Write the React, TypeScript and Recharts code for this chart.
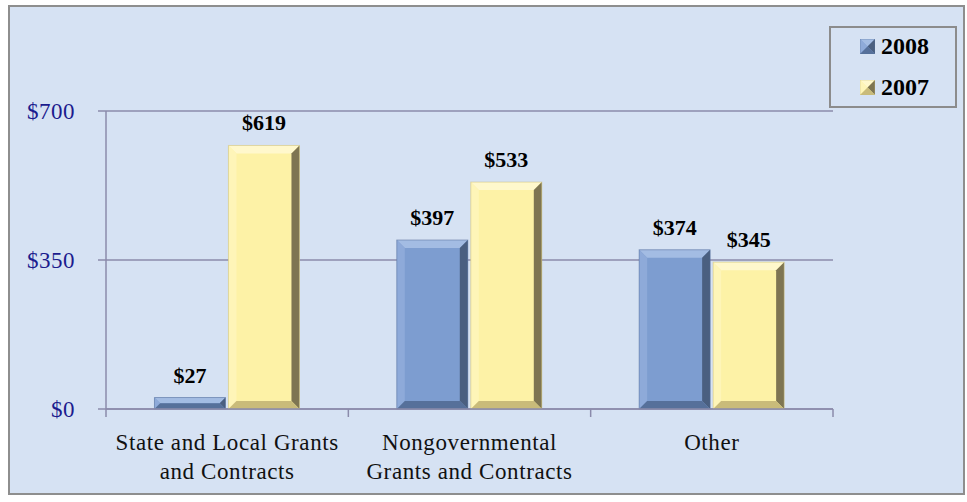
import { BarChart, Bar, XAxis, YAxis, CartesianGrid, LabelList } from 'recharts'

const categories = ['State and Local Grants|and Contracts', 'Nongovernmental|Grants and Contracts', 'Other']
const values2008 = [27, 397, 374]
const values2007 = [619, 533, 345]
const yTicks = [0, 350, 700]

const data = categories.map((name, i) => ({ name, y2008: values2008[i], y2007: values2007[i] }))

const SERIF = 'Liberation Serif, serif'

const palette = {
  y2008: { face: '#7d9dd0', light: '#a3bce3', mid: '#8eaad9', dark: '#56709a', darker: '#4a5f80' },
  y2007: { face: '#fdf2a6', light: '#fff8cc', mid: '#fef5b8', dark: '#c9bb7a', darker: '#7e7552' },
}

const bevelBar = (key: 'y2008' | 'y2007') => (props: any) => {
  const { x, y, width: w, height: h } = props
  if (!h || h <= 0) return null
  const c = palette[key]
  const b = Math.min(8, w / 2, h / 2)
  return (
    <g>
      <rect x={x} y={y} width={w} height={h} fill={c.face} />
      <polygon points={`${x},${y} ${x + w},${y} ${x + w - b},${y + b} ${x + b},${y + b}`} fill={c.light} />
      <polygon points={`${x},${y} ${x + b},${y + b} ${x + b},${y + h - b} ${x},${y + h}`} fill={c.mid} />
      <polygon points={`${x + w},${y} ${x + w},${y + h} ${x + w - b},${y + h - b} ${x + w - b},${y + b}`} fill={c.darker} />
      <polygon points={`${x},${y + h} ${x + w},${y + h} ${x + w - b},${y + h - b} ${x + b},${y + h - b}`} fill={c.dark} />
      <rect x={x} y={y} width={w} height={h} fill="none" stroke={c.dark} strokeOpacity={0.5} strokeWidth={1} />
    </g>
  )
}

const XTick = (props: any) => {
  const { x, y, payload, index } = props
  const lines = String(payload.value).split('|')
  const off = payload.offset || 0
  return (
    <g>
      <line x1={x - off} x2={x - off} y1={y - 8} y2={y} stroke="#8b8bab" strokeWidth={1.5} />
      {index === categories.length - 1 && (
        <line x1={x + off} x2={x + off} y1={y - 8} y2={y} stroke="#8b8bab" strokeWidth={1.5} />
      )}
      <text x={x} y={y + 33} textAnchor="middle" fontFamily={SERIF} fontSize={23} letterSpacing={0.6} fill="#111">
        {lines.map((l, i) => (
          <tspan key={i} x={x} dy={i === 0 ? 0 : 29}>
            {l}
          </tspan>
        ))}
      </text>
    </g>
  )
}

const YTick = (props: any) => {
  const { x, y, payload } = props
  return (
    <text x={x} y={y} dy={8} textAnchor="end" fontFamily={SERIF} fontSize={23} letterSpacing={0.5} fill="#1c1c8e">
      {`$${payload.value}`}
    </text>
  )
}

const ValueLabel = (props: any) => {
  const { x, y, width, value } = props
  return (
    <text x={x + width / 2} y={y - 15} textAnchor="middle" fontFamily={SERIF} fontSize={22} fontWeight="bold" fill="#000">
      {`$${value}`}
    </text>
  )
}

const LegendBox = () => (
  <div
    style={{
      position: 'absolute',
      left: 829,
      top: 26,
      width: 128,
      height: 82,
      border: '2px solid #8c8c8c',
      boxSizing: 'border-box',
      fontFamily: SERIF,
      fontWeight: 'bold',
      fontSize: 24,
      color: '#000',
    }}
  >
    {(['y2008', 'y2007'] as const).map((k, i) => (
      <div key={k} style={{ position: 'absolute', left: 29, top: 5 + i * 41, display: 'flex', alignItems: 'center' }}>
        <svg width={15} height={15} style={{ marginRight: 6 }}>
          {bevelBar(k)({ x: 0, y: 0, width: 15, height: 15 })}
        </svg>
        <span>{k === 'y2008' ? '2008' : '2007'}</span>
      </div>
    ))}
  </div>
)

export default function App() {
  return (
    <div style={{ position: 'absolute', left: 0, top: 0, width: 967, height: 502, background: '#fff', fontFamily: SERIF }}>
      <div
        style={{
          position: 'absolute',
          left: 8,
          top: 5,
          width: 957,
          height: 490,
          border: '2px solid #8e8e8e',
          boxSizing: 'border-box',
          background: '#d6e2f3',
        }}
      />
      <div style={{ position: 'absolute', left: 0, top: 0 }}>
        <BarChart
          width={967}
          height={502}
          data={data}
          margin={{ top: 111, right: 134, bottom: 33, left: 0 }}
          barCategoryGap="20%"
          barGap={3}
        >
          <CartesianGrid horizontal vertical={false} stroke="#8b8bab" strokeWidth={1.5} />
          <XAxis
            dataKey="name"
            height={60}
            axisLine={{ stroke: '#8b8bab', strokeWidth: 1.5 }}
            tickLine={false}
            tick={<XTick />}
            interval={0}
          />
          <YAxis
            width={106}
            domain={[0, 700]}
            ticks={yTicks}
            axisLine={{ stroke: '#8b8bab', strokeWidth: 1.5 }}
            tickLine={{ stroke: '#8b8bab', strokeWidth: 1.5 }}
            tickSize={8}
            tickMargin={23}
            tick={<YTick />}
          />
          <Bar dataKey="y2008" isAnimationActive={false} shape={bevelBar('y2008')}>
            <LabelList dataKey="y2008" content={<ValueLabel />} />
          </Bar>
          <Bar dataKey="y2007" isAnimationActive={false} shape={bevelBar('y2007')}>
            <LabelList dataKey="y2007" content={<ValueLabel />} />
          </Bar>
        </BarChart>
      </div>
      <LegendBox />
    </div>
  )
}
